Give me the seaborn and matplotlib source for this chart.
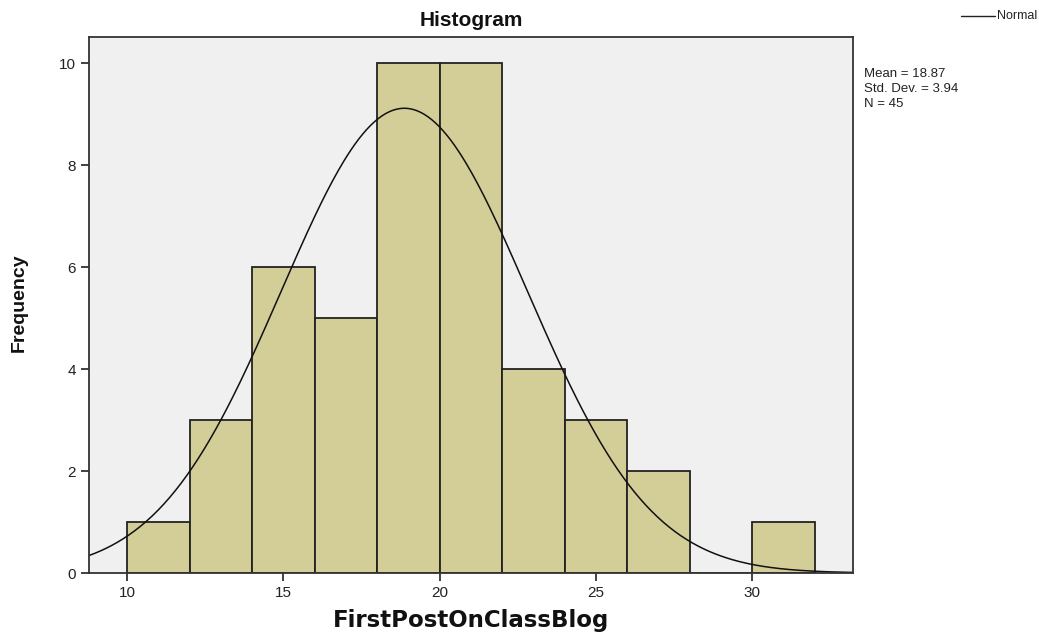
import numpy as np
import pandas as pd
import matplotlib
matplotlib.use("Agg")
import matplotlib.pyplot as plt
import seaborn as sns

# histogram bins (width 2) and frequencies
bin_edges = [10, 12, 14, 16, 18, 20, 22, 24, 26, 28, 30, 32]
counts = [1, 3, 6, 5, 10, 10, 4, 3, 2, 0, 1]

MEAN = 18.87
STD = 3.94
N = 45

x_ticks = [10, 15, 20, 25, 30]
y_ticks = [0, 2, 4, 6, 8, 10]

BAR_COLOR = "#D3CE97"
BG_COLOR = "#F0F0F0"


def main():
    sns.set_style("ticks")
    plt.rcParams["font.family"] = ["Liberation Sans", "DejaVu Sans"]

    mids = [(a + b) / 2 for a, b in zip(bin_edges[:-1], bin_edges[1:])]
    df = pd.DataFrame({"FirstPostOnClassBlog": mids, "n": counts})

    fig = plt.figure(figsize=(10.39, 6.35), dpi=100)
    ax = fig.add_axes([0.0857, 0.0976, 0.7353, 0.8441])
    ax.set_facecolor(BG_COLOR)

    sns.histplot(data=df, x="FirstPostOnClassBlog", weights="n", bins=bin_edges,
                 color=BAR_COLOR, alpha=1, edgecolor="#222222", linewidth=1.3, ax=ax)

    # fitted normal curve scaled to counts
    xlim = (8.78, 33.23)
    xs = np.linspace(xlim[0], xlim[1], 400)
    bw = bin_edges[1] - bin_edges[0]
    ys = N * bw / (STD * np.sqrt(2 * np.pi)) * np.exp(-0.5 * ((xs - MEAN) / STD) ** 2)
    sns.lineplot(x=xs, y=ys, color="#111111", linewidth=1.1, ax=ax)

    ax.set_xlim(*xlim)
    ax.set_ylim(0, 10.51)
    ax.set_xticks(x_ticks)
    ax.set_yticks(y_ticks)
    ax.tick_params(axis="both", labelsize=11, length=6, width=1.3, color="#333333",
                   labelcolor="#222222")
    for s in ax.spines.values():
        s.set_visible(True)
        s.set_color("#333333")
        s.set_linewidth(1.3)

    ax.set_xlabel("FirstPostOnClassBlog", fontsize=16.5, fontweight="bold",
                  family="DejaVu Sans", color="#111111")
    ax.xaxis.set_label_coords(0.5, -0.068)
    ax.set_ylabel("Frequency", fontsize=14, fontweight="bold", color="#111111")
    ax.yaxis.set_label_coords(-0.08, 0.505)
    ax.set_title("Histogram", fontsize=15, fontweight="bold", pad=8, color="#111111")

    # legend and stats box at right
    fig.lines.append(plt.Line2D([0.925, 0.958], [0.975, 0.975], color="#222222",
                                linewidth=1, transform=fig.transFigure))
    fig.text(0.96, 0.975, "Normal", fontsize=9, va="center", ha="left", color="#222222")
    fig.text(0.832, 0.893, "Mean = 18.87\nStd. Dev. = 3.94\nN = 45", fontsize=9.5,
             va="top", ha="left", linespacing=1.35, color="#222222")

    fig.savefig("out.png", dpi=100)
    plt.close(fig)


if __name__ == "__main__":
    main()
